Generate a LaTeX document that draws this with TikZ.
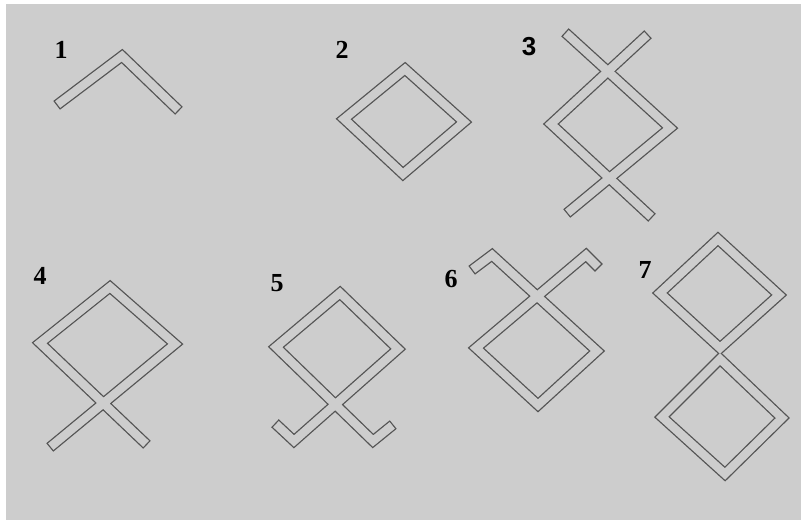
\documentclass[tikz,border=0pt]{standalone}
\usepackage{fontspec}
\setmainfont{Liberation Serif}
\setsansfont{Liberation Sans}
\definecolor{paper}{HTML}{CDCDCD}
\definecolor{inkgrey}{HTML}{555555}

\begin{document}
\begin{tikzpicture}[x=1pt,y=-1pt,
  stripedge/.style={draw=inkgrey,line width=11pt,line cap=rect,line join=miter},
  stripfill/.style={draw=paper,line width=8.4pt,line cap=rect,line join=miter},
  stepno/.style={font=\fontsize{26}{26}\selectfont\bfseries,text=black,inner sep=0pt}]
\useasboundingbox (0,0) rectangle (801,529);
\fill[white] (0,0) rectangle (801,529);
\fill[paper] (6,4) rectangle (801,520);

% outlines first, then the hollow inside, so crossings merge
\foreach \layer in {stripedge,stripfill}{
  \draw[\layer] (61,102) -- (122,56) -- (175,107);
  \draw[\layer] (405,69) -- (464,122) -- (403,174) -- (344,119) -- cycle;
  \draw[\layer] (569,36) -- (670,128) -- (571,210);
  \draw[\layer] (644,38) -- (551,124) -- (648,214);
  \draw[\layer] (143,441) -- (40,343) -- (110,287) -- (175,344) -- (54,444);
  \draw[\layer] (279,427) -- (294,441) -- (398,349) -- (340,293) -- (276,347) -- (373,441) -- (389,428);
  \draw[\layer] (476,267) -- (492,255) -- (597,351) -- (538,405) -- (476,348) -- (586,255) -- (595,264);
  \draw[\layer] (718,239) -- (779,295) -- (720,348) -- (660,293) -- cycle;
  \draw[\layer] (720,359) -- (782,418) -- (725,474) -- (662,417) -- cycle;
}

\node[stepno] (n1) at (61,50) {1};
\node[stepno] (n2) at (342,50) {2};
\node[stepno,font=\fontsize{26}{26}\selectfont\sffamily\bfseries] (n3) at (529,47) {3};
\node[stepno] (n4) at (40,276) {4};
\node[stepno] (n5) at (277,283) {5};
\node[stepno] (n6) at (451,279) {6};
\node[stepno] (n7) at (645,270) {7};
\end{tikzpicture}
\end{document}
